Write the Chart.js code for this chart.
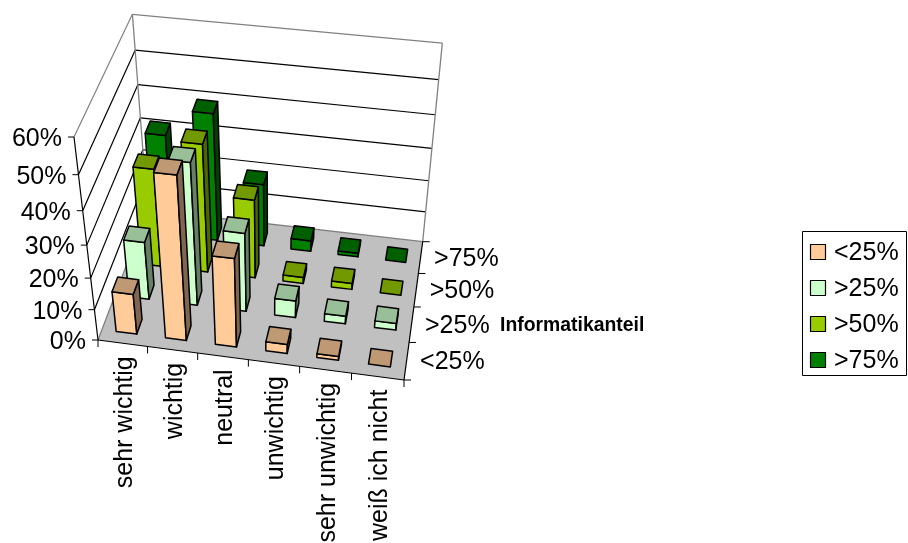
<!DOCTYPE html>
<html lang="de">
<head>
<meta charset="utf-8">
<title>Informatikanteil</title>
<style>
  html, body { margin: 0; padding: 0; background: #fff; }
  #box { width: 908px; height: 543px; }
</style>
<script src="https://cdn.jsdelivr.net/npm/chart.js@4"></script>
</head>
<body>
<div id="box"><canvas id="c"></canvas></div>
<script>
const categories = ['sehr wichtig', 'wichtig', 'neutral', 'unwichtig', 'sehr unwichtig', 'weiß ich nicht'];
const seriesNames = ['<25%', '>25%', '>50%', '>75%'];
const below25 = [13, 50, 28, 3, 1.2, 0];
const above25 = [18.5, 44, 25, 5.5, 2.5, 2.2];
const above50 = [31, 40, 25, 2, 2, 0];
const above75 = [32, 40, 20, 3.5, 1.2, 0];
const frontColors = ['#FFCC99', '#CCFFCC', '#99CC00', '#008000'];
const topColors = ['#BF9973', '#99BF99', '#739900', '#006000'];
const sideColors = ['#806650', '#668066', '#4D6600', '#004000'];
const axisTitle = 'Informatikanteil';

// Screen corners of the floor and of the wall tops; together they fix a pinhole camera.
const floorFL = [98, 340], floorFR = [404, 380], floorBR = [422.7, 241.7], floorBL = [147.5, 210];
const topFL = [74, 137], topBR = [442.3, 43.3];

function makeCamera() {
  const [x0, y0] = floorFL, [x1, y1] = floorFR, [x2, y2] = floorBR, [x3, y3] = floorBL;
  const dx1 = x1 - x2, dx2 = x3 - x2, sx = x0 - x1 + x2 - x3;
  const dy1 = y1 - y2, dy2 = y3 - y2, sy = y0 - y1 + y2 - y3;
  const det = dx1 * dy2 - dx2 * dy1;
  const g = (sx * dy2 - dx2 * sy) / det, h = (dx1 * sy - sx * dy1) / det;
  const a = x1 - x0 + g * x1, b = x3 - x0 + h * x3, d = y1 - y0 + g * y1, e = y3 - y0 + h * y3;
  // Vanishing point of the vertical direction: where two wall edges meet.
  const ax = topFL[0] - x0, ay = topFL[1] - y0, bx = topBR[0] - x2, by = topBR[1] - y2;
  const t = ((x2 - x0) * by - (y2 - y0) * bx) / (ax * by - ay * bx);
  const vx = x0 + ax * t, vy = y0 + ay * t;
  const r = (topFL[1] - vy) / (y0 - vy) - 1;
  const lambda = -r / (1 + r);
  return (u, v, z) => {
    const w = g * u + h * v + 1 + z * lambda;
    return [(a * u + b * v + x0 + z * lambda * vx) / w, (d * u + e * v + y0 + z * lambda * vy) / w];
  };
}
const project = makeCamera();

function poly(ctx, pts, fill, stroke, width) {
  ctx.beginPath();
  pts.forEach((p, i) => (i ? ctx.lineTo(p[0], p[1]) : ctx.moveTo(p[0], p[1])));
  ctx.closePath();
  if (fill) { ctx.fillStyle = fill; ctx.fill(); }
  if (stroke) { ctx.strokeStyle = stroke; ctx.lineWidth = width; ctx.lineJoin = 'round'; ctx.stroke(); }
}
function seg(ctx, a, b, color, width) {
  ctx.beginPath();
  ctx.moveTo(a[0], a[1]);
  ctx.lineTo(b[0], b[1]);
  ctx.strokeStyle = color;
  ctx.lineWidth = width;
  ctx.stroke();
}
const frac = (scale, value) => scale.getDecimalForPixel(scale.getPixelForValue(value));

const barWidth = 0.42, barDepth = 0.42;
const LABEL_FONT = '25px "Liberation Sans", Arial, sans-serif';
const TITLE_FONT = 'bold 19.4px "Liberation Sans", Arial, sans-serif';

const scene3d = {
  id: 'scene3d',
  // The flat rectangles are replaced by the projected boxes below.
  beforeDatasetsDraw(chart) {
    const ctx = chart.ctx;
    const { x: sx, y: sy, depth: sd } = chart.scales;
    const nCat = categories.length, nSer = seriesNames.length;
    ctx.save();

    // Walls with their grid lines.
    sy.ticks.forEach(tick => {
      const z = frac(sy, tick.value);
      const top = tick.value === sy.max;
      if (tick.value !== sy.min) {
        const c = top ? '#808080' : '#000';
        seg(ctx, project(0, 0, z), project(0, 1, z), c, 1.2);
        seg(ctx, project(0, 1, z), project(1, 1, z), c, 1.2);
      }
    });
    seg(ctx, project(0, 1, 0), project(0, 1, 1), '#808080', 1.3);
    seg(ctx, project(1, 1, 0), project(1, 1, 1), '#808080', 1.3);

    // Floor.
    poly(ctx, [project(0, 0, 0), project(1, 0, 0), project(1, 1, 0), project(0, 1, 0)], '#C0C0C0');
    seg(ctx, project(0, 0, 0), project(0, 1, 0), '#808080', 1.3);
    seg(ctx, project(0, 1, 0), project(1, 1, 0), '#808080', 1.3);

    // Axis lines and tick marks.
    seg(ctx, project(0, 0, 0), project(0, 0, 1), '#000', 1.2);
    seg(ctx, project(0, 0, 0), project(1, 0, 0), '#000', 1.2);
    seg(ctx, project(1, 0, 0), project(1, 1, 0), '#000', 1.2);
    sy.ticks.forEach(tick => {
      const p = project(0, 0, frac(sy, tick.value));
      seg(ctx, [p[0] - 6, p[1]], p, '#000', 1);
    });
    for (let i = 0; i <= nCat; i++) {
      const p = project(frac(sx, i - 0.5), 0, 0);
      seg(ctx, p, [p[0], p[1] + 7], '#000', 1);
    }
    for (let i = 0; i <= nSer; i++) {
      const p = project(1, frac(sd, i - 0.5), 0);
      seg(ctx, p, [p[0] + 7, p[1]], '#000', 1);
    }

    // Boxes: back row first, left to right inside each row.
    for (let s = nSer - 1; s >= 0; s--) {
      const values = chart.data.datasets[s].data;
      for (let c = 0; c < nCat; c++) {
        const cu = frac(sx, c), cv = frac(sd, s);
        const hu = barWidth / nCat / 2, hv = barDepth / nSer / 2;
        const z = frac(sy, values[c]);
        const u0 = cu - hu, u1 = cu + hu, v0 = cv - hv, v1 = cv + hv;
        if (z > 0) {
          poly(ctx, [project(u0, v0, 0), project(u1, v0, 0), project(u1, v0, z), project(u0, v0, z)], frontColors[s], '#000', 1.5);
          poly(ctx, [project(u1, v0, 0), project(u1, v1, 0), project(u1, v1, z), project(u1, v0, z)], sideColors[s], '#000', 1.5);
        }
        poly(ctx, [project(u0, v0, z), project(u1, v0, z), project(u1, v1, z), project(u0, v1, z)], topColors[s], '#000', 1.5);
      }
    }

    // Value axis labels.
    ctx.fillStyle = '#000';
    ctx.font = LABEL_FONT;
    ctx.textAlign = 'right';
    ctx.textBaseline = 'middle';
    sy.ticks.forEach(tick => {
      const p = project(0, 0, frac(sy, tick.value));
      ctx.fillText(tick.label, p[0] - 12, p[1] + 2);
    });

    // Category labels, read upwards.
    categories.forEach((name, i) => {
      const p = project(frac(sx, i), 0, 0);
      ctx.save();
      ctx.translate(p[0] + 2.5, p[1] + 13);
      ctx.rotate(-Math.PI / 2);
      ctx.fillText(name, 0, 0);
      ctx.restore();
    });

    // Depth axis labels and title.
    ctx.textAlign = 'left';
    seriesNames.forEach((name, i) => {
      const p = project(1, frac(sd, i), 0);
      ctx.fillText(name, p[0] + 13.5, p[1] + 1.5);
    });
    ctx.font = TITLE_FONT;
    ctx.fillText(axisTitle, 500, 325.5);

    // Legend.
    poly(ctx, [[802.5, 231.5], [906.5, 231.5], [906.5, 375.5], [802.5, 375.5]], null, '#000', 1);
    ctx.font = LABEL_FONT;
    seriesNames.forEach((name, i) => {
      const y = 252 + i * 36;
      poly(ctx, [[810.5, y - 7.5], [825.5, y - 7.5], [825.5, y + 7.5], [810.5, y + 7.5]], frontColors[i], '#000', 1.2);
      ctx.fillStyle = '#000';
      ctx.fillText(name, 834, y + 1.5);
    });

    ctx.restore();
    return false;
  }
};

const seriesData = [below25, above25, above50, above75];

new Chart(document.getElementById('c'), {
  type: 'bar',
  data: {
    labels: categories,
    datasets: seriesNames.map((name, i) => ({
      label: name,
      data: seriesData[i],
      backgroundColor: frontColors[i],
      borderColor: '#000'
    }))
  },
  options: {
    responsive: true,
    maintainAspectRatio: false,
    animation: false,
    plugins: { legend: { display: false }, tooltip: { enabled: false } },
    scales: {
      x: { display: false, offset: true },
      y: {
        display: false,
        min: 0,
        max: 60,
        ticks: { stepSize: 10, callback: v => v + '%' }
      },
      depth: { type: 'category', axis: 'x', labels: seriesNames, offset: true, display: false }
    }
  },
  plugins: [scene3d]
});
</script>
</body>
</html>
